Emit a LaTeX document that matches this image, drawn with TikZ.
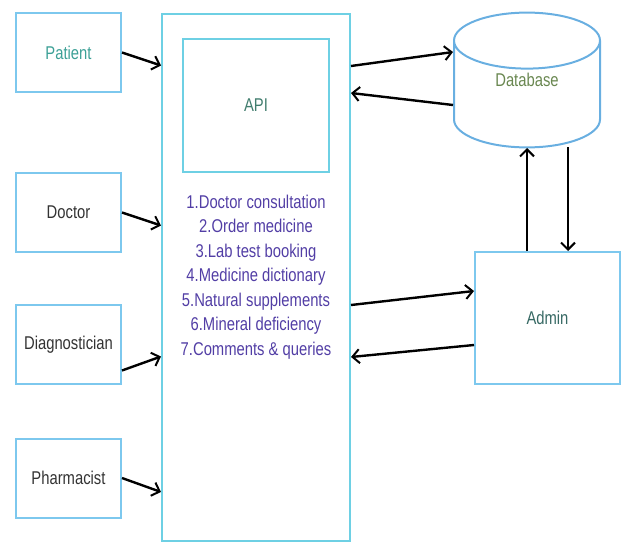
\documentclass[tikz,border=0pt]{standalone}
\usepackage{fontspec}
\setmainfont{Liberation Sans}[FakeStretch=0.8]
\usepackage{xcolor}
\usetikzlibrary{shapes.geometric,arrows.meta,positioning}

\definecolor{boxblue}{RGB}{125,200,238}
\definecolor{apicyan}{RGB}{110,208,228}
\definecolor{dbblue}{RGB}{105,175,225}
\definecolor{listpurple}{RGB}{82,62,165}
\definecolor{patientteal}{RGB}{60,160,150}
\definecolor{dbgreen}{RGB}{105,135,80}
\definecolor{adminteal}{RGB}{55,105,100}
\definecolor{apiteal}{RGB}{65,125,110}

\begin{document}
\begin{tikzpicture}[
    x=1pt, y=-1pt,
    font=\fontsize{18.5}{24.5}\selectfont,
    box/.style={rectangle, draw=boxblue, line width=2pt, minimum width=105pt, minimum height=79pt, align=center, text=black!80},
    arrow/.style={->, line width=2.4pt, >={Straight Barb[length=7pt,width=14pt,line width=2pt]}}
]
\useasboundingbox (0,0) rectangle (627,544);

% Users
\node[box, text=patientteal] (patient) at (68.5,52.5) {Patient};
\node[box] (doctor) at (68.5,212.5) {Doctor};
\node[box] (diag) at (68.5,344.5) {Diagnostician};
\node[box] (pharm) at (68.5,478) {Pharmacist};

% Application
\node[box, draw=apicyan, minimum width=188pt, minimum height=527pt, text=listpurple] (app) at (256,277)
  {1.Doctor consultation\\2.Order medicine\\3.Lab test booking\\4.Medicine dictionary\\5.Natural supplements\\6.Mineral deficiency\\7.Comments \& queries};
\node[box, draw=apicyan, minimum width=146pt, minimum height=133pt, text=apiteal] (api) at (256,105.5) {API};

% Database and admin
\node[cylinder, shape border rotate=90, aspect=0.8, draw=dbblue, line width=2pt, minimum width=146pt, minimum height=134pt, text=dbgreen, text height=13.5pt, text depth=38pt, anchor=shape center] (db) at (527,80) {Database};
\node[box, minimum width=145pt, minimum height=132pt, text=adminteal] (admin) at (547.5,318) {Admin};

% Users to application
\draw[arrow] (patient.east) -- ([yshift=-13pt]app.west |- patient.east);
\draw[arrow] (doctor.east) -- ([yshift=-13pt]app.west |- doctor.east);
\draw[arrow] ([yshift=-26pt]diag.east) -- ([yshift=-12pt]app.west |- diag.east);
\draw[arrow] (pharm.east) -- ([yshift=-14pt]app.west |- pharm.east);

% Application and database
\draw[arrow] (app.east |- 0,66) -- (db.west |- 0,52);
\draw[arrow] (db.west |- 0,105) -- (app.east |- 0,93);

% Application and admin
\draw[arrow] (app.east |- 0,305) -- (admin.west |- 0,291);
\draw[arrow] (admin.west |- 0,345) -- (app.east |- 0,357);

% Admin and database
\draw[arrow] (admin.north -| 527,0) -- (527,148);
\draw[arrow] (568,147) -- (admin.north -| 568,0);

\end{tikzpicture}
\end{document}
